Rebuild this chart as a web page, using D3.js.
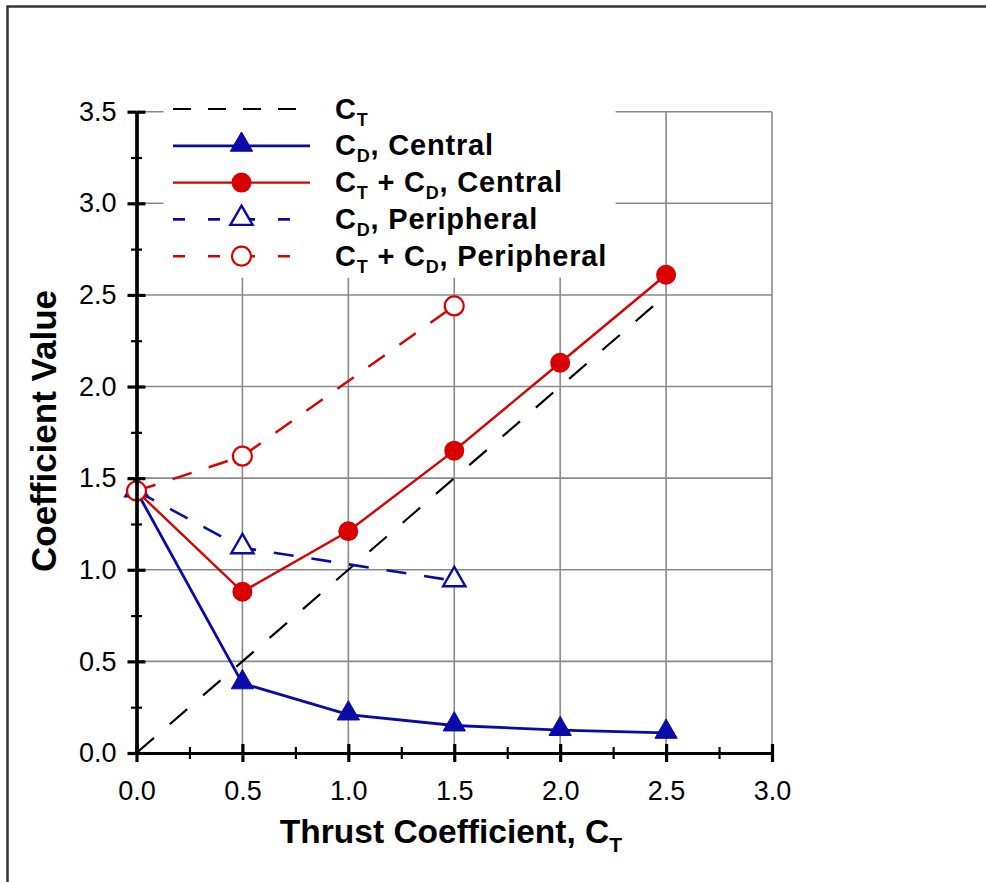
<!DOCTYPE html>
<html lang="en">
<head>
  <meta charset="utf-8">
  <title>Coefficient Value vs Thrust Coefficient</title>
  <script src="https://d3js.org/d3.v7.min.js"></script>
  <style>
    body { margin: 0; background: #fff; }
    svg text { font-family: "Liberation Sans", Arial, sans-serif; fill: #000; }
    .axis path, .axis line { stroke: #000; stroke-width: 3.2; }
    .minor path { display: none; }
    .minor line { stroke: #000; stroke-width: 2.2; }
    .grid line { stroke: #8a8a8a; stroke-width: 1.6; }
  </style>
</head>
<body>
<div id="chart"></div>
<script>
"use strict"
// dados
var ctX = [0, 2.5];
var ctY = [0, 2.5];
var centralX = [0, 0.5, 1.0, 1.5, 2.0, 2.5];
var cdCentral = [1.43, 0.38, 0.21, 0.15, 0.125, 0.11];
var totalCentral = [1.43, 0.88, 1.21, 1.65, 2.13, 2.61];
var periphX = [0, 0.5, 1.5];
var cdPeriph = [1.43, 1.12, 0.94];
var totalPeriph = [1.43, 1.62, 2.44];
var xTicks = [0, 0.5, 1.0, 1.5, 2.0, 2.5, 3.0];
var yTicks = [0, 0.5, 1.0, 1.5, 2.0, 2.5, 3.0, 3.5];
var legendLabels = ["C_T", "C_D, Central", "C_T + C_D, Central", "C_D, Peripheral", "C_T + C_D, Peripheral"];
var xTitle = "Thrust Coefficient, C_T";
var yTitle = "Coefficient Value";

var blue = "#0a0aa8", red = "#d80000";

var W = 986, H = 882;
var margin = {top: 111.7, right: 214, bottom: 129, left: 136.5};
var w = W - margin.left - margin.right,
    h = H - margin.top - margin.bottom;

var svg = d3.select("#chart").append("svg")
  .attr("width", W).attr("height", H);

// moldura
svg.append("path")
  .attr("d", "M7.5," + H + "V6.5H" + W)
  .attr("fill", "none").attr("stroke", "#333").attr("stroke-width", 2.5);

var g = svg.append("g").attr("transform", "translate(" + margin.left + "," + margin.top + ")");

var x = d3.scaleLinear().domain([0, 3]).range([0, w]);
var y = d3.scaleLinear().domain([0, 3.5]).range([h, 0]);

// grade
g.append("g").attr("class", "grid")
  .selectAll("line.v").data(xTicks.slice(1)).enter().append("line")
    .attr("x1", d => x(d)).attr("x2", d => x(d)).attr("y1", 0).attr("y2", h);
g.select(".grid")
  .selectAll("line.h").data(yTicks.slice(1)).enter().append("line")
    .attr("x1", 0).attr("x2", w).attr("y1", d => y(d)).attr("y2", d => y(d));

// fundo da legenda cobre a grade
g.append("rect")
  .attr("x", 27).attr("y", -12).attr("width", 452).attr("height", 178)
  .attr("fill", "#fff");

// funcao para texto com subscrito (_X)
function richText(sel, str, fs, subFs, subDy) {
  var parts = str.split(/_(\w)/);
  parts.forEach(function(p, i) {
    if (p === "") return;
    if (i % 2 === 1) {
      sel.append("tspan").attr("font-size", subFs).attr("dy", subDy).text(p);
    } else {
      var t = sel.append("tspan").attr("font-size", fs).text(p);
      if (i > 0) t.attr("dy", -subDy);
    }
  });
}

// series
var line = d3.line().x(d => x(d[0])).y(d => y(d[1]));
var zip = (a, b) => a.map((v, i) => [v, b[i]]);

var series = [
  {xs: ctX, ys: ctY, color: "#000", width: 2.2, dash: "23,21", legDash: "18,17", marker: null},
  {xs: centralX, ys: cdCentral, color: blue, width: 2.8, dash: null, legDash: null, marker: "tri", fill: true},
  {xs: centralX, ys: totalCentral, color: red, width: 2.4, dash: null, legDash: null, marker: "circ", fill: true},
  {xs: periphX, ys: cdPeriph, color: blue, width: 2.6, dash: "20,18", legDash: "12,23", marker: "tri", fill: false},
  {xs: periphX, ys: totalPeriph, color: red, width: 2.4, dash: "20,18", legDash: "12,23", marker: "circ", fill: false}
];

var tri = d3.symbol().type(d3.symbolTriangle).size(215);

function drawMarker(sel, s, px, py) {
  if (s.marker === "tri") {
    sel.append("path").attr("d", tri())
      .attr("transform", "translate(" + px + "," + (py - 1) + ")")
      .attr("fill", s.fill ? s.color : "#fff")
      .attr("stroke", s.color).attr("stroke-width", s.fill ? 1 : 2.4);
  } else if (s.marker === "circ") {
    sel.append("circle").attr("cx", px).attr("cy", py)
      .attr("r", s.fill ? 10 : 9.5)
      .attr("fill", s.fill ? s.color : "#fff")
      .attr("stroke", s.color).attr("stroke-width", s.fill ? 0 : 2.2);
  }
}

series.forEach(function(s) {
  var pts = zip(s.xs, s.ys);
  g.append("path").datum(pts)
    .attr("d", line)
    .attr("fill", "none")
    .attr("stroke", s.color)
    .attr("stroke-width", s.width)
    .attr("stroke-dasharray", s.dash);
  var mg = g.append("g");
  pts.forEach(function(p) { drawMarker(mg, s, x(p[0]), y(p[1])); });
});

// eixos
var minorX = d3.range(0.25, 3, 0.5);
var minorY = d3.range(0.25, 3.5, 0.5);

var xAx = g.append("g").attr("class", "axis").attr("transform", "translate(0," + h + ")");
xAx.call(d3.axisBottom(x).tickValues(xTicks).tickFormat(d3.format(".1f")).tickSize(9).tickSizeOuter(0).tickPadding(19));
xAx.append("g").call(d3.axisTop(x).tickValues(xTicks).tickFormat("").tickSize(9).tickSizeOuter(0));
g.append("g").attr("class", "minor").attr("transform", "translate(0," + (h - 6) + ")")
  .call(d3.axisBottom(x).tickValues(minorX).tickFormat("").tickSize(12));

var yAx = g.append("g").attr("class", "axis");
yAx.call(d3.axisLeft(y).tickValues(yTicks).tickFormat(d3.format(".1f")).tickSize(9).tickSizeOuter(0).tickPadding(11));
yAx.append("g").call(d3.axisRight(y).tickValues(yTicks).tickFormat("").tickSize(9).tickSizeOuter(0));
g.append("g").attr("class", "minor").attr("transform", "translate(" + (-5.5) + ",0)")
  .call(d3.axisRight(y).tickValues(minorY).tickFormat("").tickSize(11));

g.selectAll(".axis .tick text")
  .attr("font-family", "Liberation Sans, Arial, sans-serif")
  .attr("font-size", "27px")
  .attr("fill", "#111");

// legenda
var leg = g.append("g");
legendLabels.forEach(function(lab, i) {
  var s = series[i];
  var ly = -2.7 + i * 36.8;
  leg.append("line")
    .attr("x1", 36.5).attr("x2", 173.5).attr("y1", ly).attr("y2", ly)
    .attr("stroke", s.color).attr("stroke-width", s.width)
    .attr("stroke-dasharray", s.legDash);
  drawMarker(leg, s, 105, ly);
  var t = leg.append("text")
    .attr("x", 198.5).attr("y", ly + 9.5)
    .attr("font-weight", "bold")
    .attr("letter-spacing", "0.8px");
  richText(t, lab, "29px", "18px", 7);
});

// titulos
var xt = svg.append("text")
  .attr("x", 451).attr("y", 843)
  .attr("text-anchor", "middle")
  .attr("font-weight", "bold");
richText(xt, xTitle, "33.5px", "21px", 9);

svg.append("text")
  .attr("transform", "translate(56,431) rotate(-90)")
  .attr("text-anchor", "middle")
  .attr("font-weight", "bold")
  .attr("font-size", "35px")
  .text(yTitle);
</script>
</body>
</html>
